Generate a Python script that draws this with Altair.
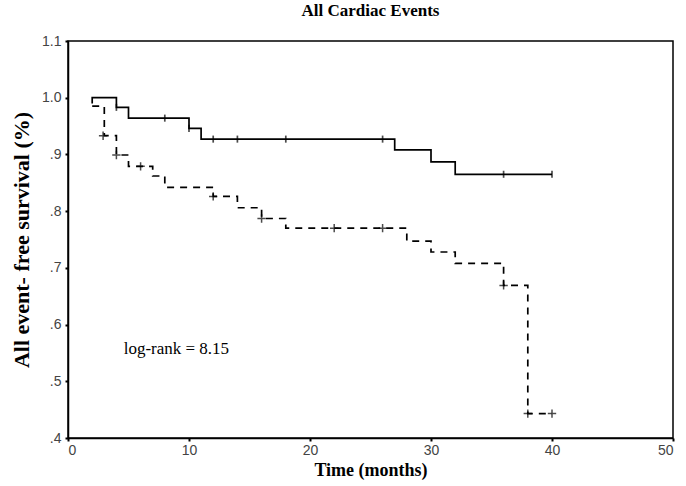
import altair as alt
import pandas as pd

# Solid curve (group A)
times_a = [2, 2, 4, 5, 10, 11, 27, 30, 32, 40]
surv_a = [0.99, 1.0, 0.983, 0.964, 0.946, 0.927, 0.908, 0.887, 0.865, 0.865]
cens_a_t = [4, 8, 10, 12, 14, 18, 26, 36, 40]
cens_a_s = [0.983, 0.964, 0.946, 0.927, 0.927, 0.927, 0.927, 0.865, 0.865]

# Dashed curve (group B)
times_b = [2, 3, 4, 5, 7, 8, 12, 14, 16, 18, 28, 30, 32, 36, 38, 40]
surv_b = [0.985, 0.933, 0.899, 0.879, 0.862, 0.842, 0.826, 0.806, 0.787, 0.770,
          0.747, 0.728, 0.708, 0.669, 0.443, 0.443]
cens_b_t = [2.9, 4, 6, 12, 16, 22, 26, 36, 38, 40]
cens_b_s = [0.933, 0.899, 0.879, 0.826, 0.787, 0.770, 0.770, 0.669, 0.443, 0.443]

y_ticks = [0.4, 0.5, 0.6, 0.7, 0.8, 0.9, 1.0, 1.1]
x_ticks = [0, 10, 20, 30, 40, 50]

df_a = pd.DataFrame({"t": times_a, "s": surv_a, "o": list(range(len(times_a)))})
df_b = pd.DataFrame({"t": times_b, "s": surv_b, "o": list(range(len(times_b)))})
dca = pd.DataFrame({"t": cens_a_t, "s": cens_a_s})
dcb = pd.DataFrame({"t": cens_b_t, "s": cens_b_s})

xs = alt.Scale(domain=[0, 50], nice=False, zero=False)
ys = alt.Scale(domain=[0.4, 1.1], nice=False, zero=False)

xenc = alt.X("t:Q", scale=xs, axis=alt.Axis(
    values=x_ticks, title="Time (months)", grid=False, tickSize=3,
    labelFont="Liberation Sans", labelFontSize=14, labelColor="#444",
    labelPadding=2, titleFont="Liberation Serif", titleFontSize=18,
    titleFontWeight="bold", titleColor="black", titlePadding=4,
    domainColor="black", domainWidth=1.5, tickColor="black", tickWidth=2))
yenc = alt.Y("s:Q", scale=ys, axis=alt.Axis(
    values=y_ticks, title="All event- free survival (%)", grid=False, tickSize=3,
    labelExpr="datum.value >= 1 ? format(datum.value, '.1f') : replace(format(datum.value, '.1f'), '0.', '.')",
    labelFont="Liberation Sans", labelFontSize=14, labelColor="#444",
    labelPadding=4, titleFont="Liberation Serif", titleFontSize=22,
    titleFontWeight="bold", titleColor="black", titlePadding=8,
    domainColor="black", domainWidth=1.5, tickColor="black", tickWidth=2))

plus = "M-1,0L1,0M0,-1L0,1"

line_a = alt.Chart(df_a).mark_line(interpolate="step-after", color="black",
                                   strokeWidth=1.7).encode(x=xenc, y=yenc, order="o:Q")
line_b = alt.Chart(df_b).mark_line(interpolate="step-after", color="black",
                                   strokeWidth=1.7, strokeDash=[7, 6]).encode(
    x="t:Q", y="s:Q", order="o:Q")
pts_a = alt.Chart(dca).mark_point(shape="M0,-1L0,1", size=50, color="black",
                                  strokeWidth=1.7).encode(x="t:Q", y="s:Q")
pts_b = alt.Chart(dcb).mark_point(shape=plus, size=70, color="black",
                                  strokeWidth=1.5).encode(x="t:Q", y="s:Q")
txt = alt.Chart(pd.DataFrame({"t": [4.6], "s": [0.557], "l": ["log-rank = 8.15"]})).mark_text(
    align="left", baseline="middle", font="Liberation Serif", fontSize=17,
    color="black").encode(x="t:Q", y="s:Q", text="l:N")

chart = alt.layer(line_a, line_b, pts_a, pts_b, txt).properties(
    width=605, height=397,
    title=alt.TitleParams("All Cardiac Events", font="Liberation Serif", fontSize=17,
                          fontWeight="bold", color="black", offset=14, anchor="middle"),
    autosize=alt.AutoSizeParams(type="none"),
    padding={"left": 68, "top": 41, "right": 13, "bottom": 48},
).configure(background="white").configure_view(stroke="black", strokeWidth=1.5)

chart.save("out.html", embed_options={"renderer": "svg", "actions": False})
